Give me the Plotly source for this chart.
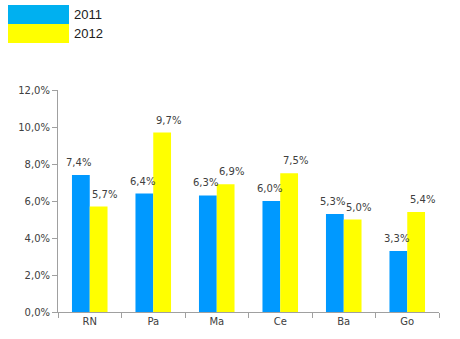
import plotly.graph_objects as go

categories = ["RN", "Pa", "Ma", "Ce", "Ba", "Go"]
values_2011 = [7.4, 6.4, 6.3, 6.0, 5.3, 3.3]
values_2012 = [5.7, 9.7, 6.9, 7.5, 5.0, 5.4]
series_names = ["2011", "2012"]
y_ticks = [0, 2, 4, 6, 8, 10, 12]
y_tick_labels = ["0,0%", "2,0%", "4,0%", "6,0%", "8,0%", "10,0%", "12,0%"]

bar_colors = ["#0099FF", "#FFFF00"]
key_colors = ["#00B0F0", "#FFFF00"]
label_offsets = [-11, 15]  # horizontal pixel offset of value labels from category centre
label_font = dict(family="DejaVu Sans", size=10, color="#404040")


def pct(v):
    return f"{v:.1f}%".replace(".", ",")


fig = go.Figure()
for name, vals, col, dx in zip(series_names, [values_2011, values_2012],
                               bar_colors, label_offsets):
    fig.add_trace(go.Bar(
        x=categories, y=vals, name=name,
        marker=dict(color=col, line=dict(width=0)),
        showlegend=False,
    ))
    for cat, v in zip(categories, vals):
        fig.add_annotation(x=cat, y=v, text=pct(v), showarrow=False,
                           xanchor="center", yanchor="bottom",
                           xshift=dx, yshift=5, font=label_font)

# Hand-drawn key: large colour swatches with year labels
for i, (name, col) in enumerate(zip(series_names, key_colors)):
    y0 = 5 + i * 19
    fig.add_shape(type="rect", xref="paper", yref="paper",
                  x0=-50 / 381, x1=11 / 381,
                  y0=1 + (90 - y0 - 19) / 222, y1=1 + (90 - y0) / 222,
                  fillcolor=col, line=dict(width=0), layer="above")
    fig.add_annotation(text=name, xref="paper", yref="paper",
                       x=14 / 381, y=1 + (90 - y0 - 9.5) / 222,
                       xanchor="left", yanchor="middle", showarrow=False,
                       font=dict(family="Liberation Sans", size=13, color="#202020"))

fig.update_layout(
    width=460, height=339,
    margin=dict(l=58, r=21, t=90, b=27),
    paper_bgcolor="white", plot_bgcolor="white",
    barmode="group", bargap=0.44, bargroupgap=0,
)
fig.update_xaxes(
    showline=True, linecolor="#A0A0A0", linewidth=1,
    ticks="outside", ticklen=5, tickcolor="#A0A0A0", tickson="boundaries",
    tickfont=label_font, showgrid=False,
)
fig.update_yaxes(
    range=[0, 12], tickvals=y_ticks, ticktext=y_tick_labels,
    showline=True, linecolor="#A0A0A0", linewidth=1,
    ticks="outside", ticklen=5, tickcolor="#A0A0A0",
    tickfont=label_font, showgrid=False, zeroline=False,
)

fig.write_html("out.html")
